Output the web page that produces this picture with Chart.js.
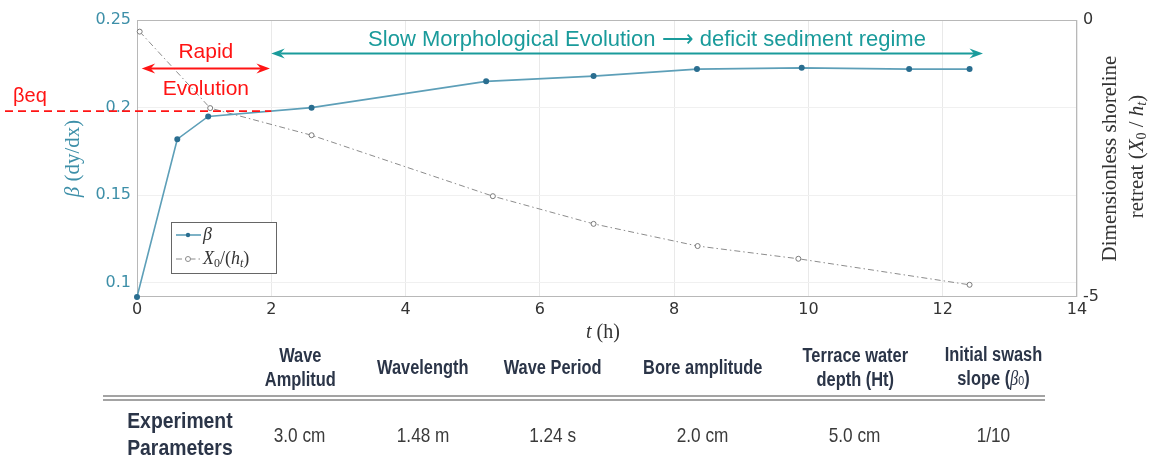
<!DOCTYPE html>
<html lang="en">
<head>
<meta charset="UTF-8">
<title>Swash slope and shoreline retreat</title>
<script src="https://cdn.jsdelivr.net/npm/chart.js"></script>
<style>
  body { margin: 0; background: #fff; }
  #wrap { position: relative; width: 1153px; height: 469px; overflow: hidden; }
  #chart { position: absolute; left: 0; top: 0; }
  .cell {
    position: absolute; width: 220px; display: flex; align-items: center; justify-content: center;
    text-align: center; font-family: "Liberation Sans", Arial, sans-serif; color: #2b3548;
  }
  .cell > span { display: inline-block; transform: scaleX(0.82); white-space: nowrap; }
  .head { font-weight: bold; font-size: 20px; line-height: 24px; top: 342px; height: 50px; }
  .val { font-size: 21px; color: #3a3a3a; top: 420px; height: 30px; }
  .rowname { font-weight: bold; font-size: 22px; line-height: 27px; top: 406px; height: 56px; }
  .rowname > span { transform: scaleX(0.88); }
  .rule { position: absolute; left: 103px; width: 942px; top: 395px; height: 2px;
          border-top: 2px solid #a3a3a3; border-bottom: 2px solid #a3a3a3; }
  .cell i { font-family: "Liberation Serif", serif; font-weight: normal; }
  .cell sub { font-size: 13px; vertical-align: baseline; font-weight: normal; }
</style>
</head>
<body>
<div id="wrap">
  <canvas id="chart" width="1153" height="469"></canvas>
  <div id="table"></div>
</div>
<script>
// beach slope (left axis) and dimensionless shoreline retreat (right axis) vs time in hours
const betaTime = [0, 0.6, 1.06, 2.6, 5.2, 6.8, 8.34, 9.9, 11.5, 12.4];
const betaValues = [0.092, 0.182, 0.195, 0.200, 0.215, 0.218, 0.222, 0.2227, 0.222, 0.222];
const retreatTime = [0.04, 1.09, 2.6, 5.3, 6.8, 8.35, 9.85, 12.4];
const retreatValues = [-0.21, -1.59, -2.08, -3.18, -3.68, -4.08, -4.31, -4.78];

const betaTicks = [0.1, 0.15, 0.2, 0.25];
const retreatTicks = [-5, 0];
const betaEq = 0.198;

// phase arrows: [start t, end t, beta level]
const rapidPhase = [0.07, 1.98, 0.2223];
const slowPhase = [2.0, 12.6, 0.2309];

// experiment parameter table
const paramNames = ['Wave<br>Amplitud', 'Wavelength', 'Wave Period', 'Bore amplitude',
                    'Terrace water<br>depth (Ht)', 'Initial swash<br>slope (<i>β</i><sub>0</sub>)'];
const paramValues = ['3.0 cm', '1.48 m', '1.24 s', '2.0 cm', '5.0 cm', '1/10'];
const paramRowName = 'Experiment<br>Parameters';

const TEAL_AXIS = '#3d8fa8';
const TEAL_NOTE = '#1a9b9b';
const RED = '#ff1414';
const SERIF = '"Liberation Serif", "DejaVu Serif", serif';
const SANS = '"Liberation Sans", Arial, sans-serif';

// build the table under the chart
(function buildTable() {
  const colX = [300, 423, 553, 703, 855, 993];
  const table = document.getElementById('table');
  let html = '';
  paramNames.forEach((name, i) => {
    html += `<div class="cell head" style="left:${colX[i] - 110}px"><span>${name}</span></div>`;
    html += `<div class="cell val" style="left:${colX[i] - 110}px"><span>${paramValues[i]}</span></div>`;
  });
  html += `<div class="cell rowname" style="left:${180 - 110}px"><span>${paramRowName}</span></div>`;
  html += '<div class="rule"></div>';
  table.innerHTML = html;
})();

// text with italic parts and subscripts, parts = [{t, it, sub}]
function drawRich(ctx, parts, x, y, size, color, align) {
  const fontFor = p => `${p.it ? 'italic ' : ''}${p.sub ? Math.round(size * 0.68) : size}px ${SERIF}`;
  let w = 0;
  parts.forEach(p => { ctx.font = fontFor(p); w += ctx.measureText(p.t).width; });
  let cx = align === 'left' ? x : x - w / 2;
  ctx.fillStyle = color;
  ctx.textAlign = 'left';
  ctx.textBaseline = 'middle';
  parts.forEach(p => {
    ctx.font = fontFor(p);
    ctx.fillText(p.t, cx, p.sub ? y + size * 0.25 : y);
    cx += ctx.measureText(p.t).width;
  });
}

function drawArrow(ctx, x1, x2, y, color, lw, head, both) {
  ctx.save();
  ctx.strokeStyle = color;
  ctx.fillStyle = color;
  ctx.lineWidth = lw;
  ctx.beginPath();
  ctx.moveTo(x1 + (both ? head : 0), y);
  ctx.lineTo(x2 - head, y);
  ctx.stroke();
  const tip = (xt, dir) => {
    ctx.beginPath();
    ctx.moveTo(xt, y);
    ctx.lineTo(xt - dir * head * 1.5, y - head * 0.55);
    ctx.lineTo(xt - dir * head, y);
    ctx.lineTo(xt - dir * head * 1.5, y + head * 0.55);
    ctx.closePath();
    ctx.fill();
  };
  tip(x2, 1);
  if (both) tip(x1, -1);
  ctx.restore();
}

const overlay = {
  id: 'overlay',
  beforeDatasetsDraw(chart) {
    const { ctx, chartArea: a } = chart;
    ctx.save();
    ctx.strokeStyle = '#b8b8b8';
    ctx.lineWidth = 1;
    ctx.strokeRect(a.left + 0.5, a.top + 0.5, a.right - a.left - 1, a.bottom - a.top - 1);
    ctx.restore();
  },
  afterDatasetsDraw(chart) {
    const { ctx, chartArea: a, scales } = chart;
    const xs = scales.x, ys = scales.y;

    // equilibrium slope line
    const yEq = ys.getPixelForValue(betaEq);
    ctx.save();
    ctx.strokeStyle = RED;
    ctx.lineWidth = 1.6;
    ctx.setLineDash([8, 5]);
    ctx.beginPath();
    ctx.moveTo(5, yEq);
    ctx.lineTo(xs.getPixelForValue(2), yEq);
    ctx.stroke();
    ctx.restore();

    ctx.save();
    ctx.fillStyle = RED;
    ctx.font = `20px ${SANS}`;
    ctx.textAlign = 'left';
    ctx.textBaseline = 'alphabetic';
    ctx.fillText('βeq', 13, yEq - 9);

    // rapid evolution phase
    const yr = ys.getPixelForValue(rapidPhase[2]);
    const r1 = xs.getPixelForValue(rapidPhase[0]), r2 = xs.getPixelForValue(rapidPhase[1]);
    drawArrow(ctx, r1, r2, yr, RED, 2, 9, true);
    ctx.fillStyle = RED;
    ctx.font = `21px ${SANS}`;
    ctx.textAlign = 'center';
    ctx.fillText('Rapid', (r1 + r2) / 2, yr - 11);
    ctx.fillText('Evolution', (r1 + r2) / 2, yr + 26);

    // slow evolution phase
    const ysl = ys.getPixelForValue(slowPhase[2]);
    const s1 = xs.getPixelForValue(slowPhase[0]), s2 = xs.getPixelForValue(slowPhase[1]);
    drawArrow(ctx, s1, s2, ysl, TEAL_NOTE, 2, 9, true);
    ctx.fillStyle = TEAL_NOTE;
    ctx.font = `22px ${SANS}`;
    ctx.fillText('Slow Morphological Evolution \u27F6 deficit sediment regime', 647, ysl - 7);
    ctx.restore();

    // legend box
    const lx = a.left + 34, ly = a.bottom - 75;
    ctx.save();
    ctx.fillStyle = '#fff';
    ctx.fillRect(lx, ly, 105, 51);
    ctx.strokeStyle = '#666';
    ctx.lineWidth = 1;
    ctx.strokeRect(lx + 0.5, ly + 0.5, 105, 51);
    ctx.strokeStyle = '#5d9fb8';
    ctx.lineWidth = 1.6;
    ctx.beginPath(); ctx.moveTo(lx + 5, ly + 13); ctx.lineTo(lx + 30, ly + 13); ctx.stroke();
    ctx.fillStyle = '#2a6e90';
    ctx.beginPath(); ctx.arc(lx + 17, ly + 13, 2.2, 0, Math.PI * 2); ctx.fill();
    ctx.strokeStyle = '#8c8c8c';
    ctx.lineWidth = 1;
    ctx.setLineDash([6, 3, 1.5, 3]);
    ctx.beginPath(); ctx.moveTo(lx + 5, ly + 37); ctx.lineTo(lx + 30, ly + 37); ctx.stroke();
    ctx.setLineDash([]);
    ctx.fillStyle = '#fff';
    ctx.beginPath(); ctx.arc(lx + 17, ly + 37, 2.5, 0, Math.PI * 2); ctx.fill(); ctx.stroke();
    ctx.restore();
    drawRich(ctx, [{ t: 'β', it: true }], lx + 32, ly + 13, 18, '#333', 'left');
    drawRich(ctx, [{ t: 'X', it: true }, { t: '0', sub: true }, { t: '/(' }, { t: 'h', it: true },
                   { t: 't', it: true, sub: true }, { t: ')' }], lx + 32, ly + 37, 18, '#333', 'left');

    // axis titles
    const midY = (a.top + a.bottom) / 2;
    ctx.save();
    ctx.translate(73, midY);
    ctx.rotate(-Math.PI / 2);
    drawRich(ctx, [{ t: 'β', it: true }, { t: ' (dy/dx)' }], 0, 0, 21, TEAL_AXIS);
    ctx.restore();

    ctx.save();
    ctx.translate(1110, midY);
    ctx.rotate(-Math.PI / 2);
    drawRich(ctx, [{ t: 'Dimensionless shoreline' }], 0, 0, 21, '#333');
    ctx.restore();
    ctx.save();
    ctx.translate(1137, midY - 2);
    ctx.rotate(-Math.PI / 2);
    drawRich(ctx, [{ t: 'retreat (' }, { t: 'X', it: true }, { t: '0', sub: true }, { t: ' / ' },
                   { t: 'h', it: true }, { t: 't', it: true, sub: true }, { t: ')' }], 0, 0, 21, '#333');
    ctx.restore();

    drawRich(ctx, [{ t: 't', it: true }, { t: ' (h)' }], 603, a.bottom + 36, 20, '#333');
  }
};

new Chart(document.getElementById('chart').getContext('2d'), {
  type: 'line',
  data: {
    datasets: [
      {
        label: 'β',
        data: betaTime.map((t, i) => ({ x: t, y: betaValues[i] })),
        yAxisID: 'y',
        borderColor: '#5d9fb8',
        borderWidth: 1.6,
        pointRadius: 2.2,
        pointBackgroundColor: '#2a6e90',
        pointBorderColor: '#2a6e90',
        tension: 0,
        clip: false
      },
      {
        label: 'X0/(ht)',
        data: retreatTime.map((t, i) => ({ x: t, y: retreatValues[i] })),
        yAxisID: 'y2',
        borderColor: '#8c8c8c',
        borderWidth: 1,
        borderDash: [6, 3, 1.5, 3],
        pointRadius: 2.5,
        pointBackgroundColor: '#fff',
        pointBorderColor: '#7a7a7a',
        pointBorderWidth: 1,
        tension: 0,
        clip: false
      }
    ]
  },
  options: {
    responsive: false,
    animation: false,
    layout: { padding: { top: 20 } },
    plugins: { legend: { display: false }, tooltip: { enabled: false } },
    scales: {
      x: {
        type: 'linear',
        min: 0, max: 14,
        afterFit: s => { s.height = 172; },
        ticks: { stepSize: 2, color: '#333', font: { family: '"DejaVu Sans", sans-serif', size: 16 }, padding: 3 },
        grid: { color: '#e9e9e9', drawTicks: false },
        border: { display: false }
      },
      y: {
        position: 'left',
        min: 0.092, max: 0.25,
        afterFit: s => { s.width = 137; },
        afterBuildTicks: s => { s.ticks = betaTicks.map(v => ({ value: v })); },
        ticks: { color: TEAL_AXIS, font: { family: '"DejaVu Sans", sans-serif', size: 16 }, padding: 6,
                 callback: v => String(v) },
        grid: { color: '#f0f0f0', drawTicks: false },
        border: { display: false }
      },
      y2: {
        position: 'right',
        min: -5, max: 0,
        afterFit: s => { s.width = 76; },
        afterBuildTicks: s => { s.ticks = retreatTicks.map(v => ({ value: v })); },
        ticks: { color: '#333', font: { family: '"DejaVu Sans", sans-serif', size: 16 }, padding: 6 },
        grid: { display: false, drawTicks: false },
        border: { display: false }
      }
    }
  },
  plugins: [overlay]
});
</script>
</body>
</html>
